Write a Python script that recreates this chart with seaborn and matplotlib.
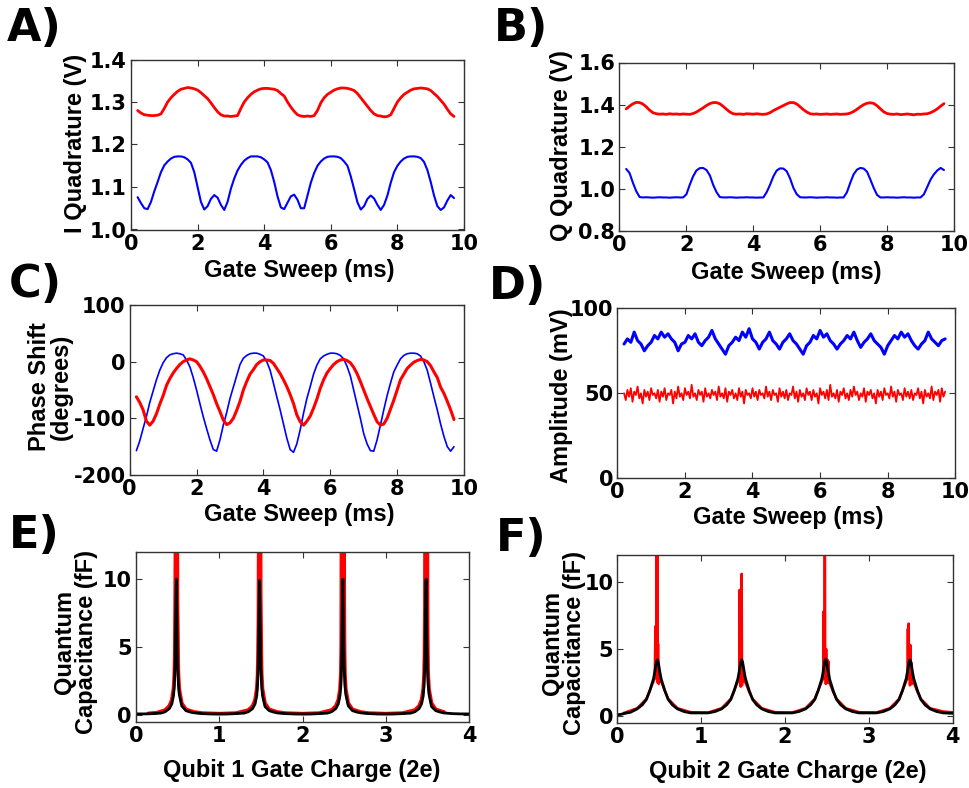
import numpy as np
import matplotlib
matplotlib.use("Agg")
import matplotlib.pyplot as plt
import seaborn as sns
from matplotlib.ticker import FormatStrFormatter, FixedLocator
from matplotlib.font_manager import FontProperties

# ---------------- data ----------------
# Panel A: I quadrature (V), gate sweep 0.2 .. 9.7 ms, 0.1 ms steps
i_quad_red = [1.280,1.274,1.270,1.269,1.268,1.268,1.269,1.272,1.285,1.300,
              1.310,1.318,1.325,1.330,1.332,1.334,1.333,1.331,1.328,1.322,
              1.315,1.308,1.298,1.287,1.277,1.270,1.267,1.267,1.266,1.267,
              1.268,1.285,1.300,1.310,1.318,1.324,1.328,1.331,1.332,1.332,
              1.331,1.330,1.327,1.320,1.314,1.300,1.288,1.278,1.270,1.267,
              1.266,1.267,1.266,1.268,1.280,1.298,1.310,1.318,1.323,1.328,
              1.331,1.333,1.333,1.332,1.330,1.327,1.320,1.310,1.300,1.290,
              1.280,1.272,1.268,1.267,1.265,1.266,1.270,1.285,1.300,1.310,
              1.318,1.323,1.328,1.331,1.332,1.333,1.332,1.331,1.327,1.320,
              1.313,1.304,1.295,1.283,1.272,1.266]
i_quad_blue = [1.076,1.062,1.050,1.048,1.065,1.090,1.112,1.135,1.151,1.160,
               1.167,1.171,1.172,1.172,1.170,1.165,1.157,1.135,1.100,1.065,
               1.047,1.055,1.072,1.081,1.075,1.058,1.046,1.065,1.096,1.120,
               1.139,1.152,1.162,1.168,1.172,1.172,1.172,1.170,1.165,1.158,
               1.140,1.112,1.078,1.052,1.048,1.063,1.078,1.082,1.070,1.050,
               1.050,1.080,1.110,1.133,1.150,1.160,1.167,1.171,1.172,1.172,
               1.171,1.168,1.160,1.150,1.125,1.095,1.064,1.047,1.055,1.072,
               1.080,1.073,1.058,1.046,1.058,1.080,1.110,1.135,1.150,1.160,
               1.167,1.171,1.172,1.172,1.171,1.168,1.159,1.140,1.112,1.080,
               1.055,1.046,1.052,1.068,1.081,1.074]

# Panel B: Q quadrature (V)
q_quad_red = [1.380,1.393,1.404,1.411,1.410,1.403,1.390,1.374,1.362,1.357,
              1.355,1.356,1.354,1.357,1.355,1.356,1.354,1.356,1.355,1.354,
              1.358,1.365,1.375,1.385,1.396,1.405,1.410,1.410,1.404,1.392,
              1.378,1.365,1.357,1.355,1.356,1.354,1.357,1.356,1.355,1.357,
              1.355,1.354,1.356,1.362,1.372,1.380,1.388,1.396,1.404,1.410,
              1.410,1.403,1.390,1.376,1.365,1.357,1.355,1.356,1.354,1.355,
              1.356,1.354,1.355,1.356,1.354,1.355,1.356,1.360,1.368,1.378,
              1.390,1.400,1.407,1.409,1.406,1.395,1.380,1.366,1.358,1.355,
              1.354,1.356,1.353,1.354,1.356,1.354,1.352,1.355,1.354,1.356,
              1.357,1.362,1.370,1.380,1.393,1.405]
q_quad_blue = [1.095,1.076,1.030,0.990,0.962,0.960,0.961,0.960,0.959,0.960,
               0.961,0.960,0.960,0.959,0.960,0.961,0.960,0.960,0.975,1.020,
               1.060,1.088,1.099,1.100,1.090,1.065,1.020,0.985,0.962,0.960,
               0.960,0.961,0.960,0.959,0.960,0.960,0.961,0.960,0.960,0.959,
               0.960,0.960,0.985,1.020,1.060,1.088,1.098,1.097,1.084,1.050,
               1.005,0.975,0.961,0.960,0.960,0.961,0.960,0.959,0.960,0.960,
               0.961,0.960,0.960,0.959,0.960,0.960,0.985,1.030,1.070,1.092,
               1.100,1.097,1.082,1.045,1.005,0.972,0.960,0.960,0.961,0.960,
               0.960,0.959,0.960,0.961,0.960,0.960,0.959,0.960,0.960,0.975,
               1.010,1.045,1.070,1.088,1.100,1.090]

# Panel C: phase shift (degrees)
phase_blue = [-157,-140,-118,-97,-72,-52,-32,-15,-2,7,
              12,14,15,14,12,3,-9,-28,-50,-74,
              -97,-118,-138,-155,-158,-138,-112,-90,-65,-45,
              -25,-5,6,11,14,15,15,13,10,0,
              -15,-38,-62,-85,-110,-135,-155,-160,-145,-120,
              -91,-65,-44,-22,-6,5,10,13,15,15,
              14,11,5,-8,-25,-50,-75,-100,-127,-145,
              -157,-158,-138,-112,-85,-60,-38,-18,-6,5,
              11,14,15,15,14,10,0,-15,-38,-62,
              -85,-110,-132,-150,-158,-150]
phase_red = [-62,-72,-85,-105,-112,-105,-92,-75,-60,-42,
             -30,-20,-12,-5,0,3,5,3,0,-8,
             -18,-30,-44,-58,-74,-88,-103,-111,-108,-100,
             -86,-70,-50,-35,-22,-14,-5,0,3,3,
             2,-3,-12,-21,-32,-44,-58,-74,-94,-106,
             -112,-105,-96,-82,-66,-47,-32,-20,-12,-5,
             0,3,4,2,-2,-10,-21,-35,-50,-65,
             -79,-93,-106,-112,-110,-100,-84,-68,-50,-32,
             -22,-12,-6,-1,2,4,3,0,-7,-18,
             -28,-45,-56,-70,-85,-102]

# Panel D: amplitude (mV)
amp_blue = [79,82,80,86,81,79,75,78,80,84,
            82,86,83,85,82,80,75,79,80,84,
            82,85,80,78,81,83,87,82,79,76,
            73,78,80,83,81,86,83,88,82,80,
            76,80,82,86,81,79,76,80,82,85,
            81,79,76,73,78,80,84,82,87,83,
            85,81,79,76,79,81,84,82,86,81,
            77,80,82,85,81,79,77,73,78,81,
            84,82,86,83,85,81,78,76,79,81,
            86,82,80,78,81,82]
amp_red = [50,46,52,48,53,45,51,49,54,47,
           50,44,52,48,51,46,53,49,50,47,
           52,45,51,48,53,46,50,49,52,44,
           51,47,54,48,50,46,53,49,51,47,
           55,48,50,46,52,49,51,45,53,48,
           50,47,52,49,51,46,54,48,50,47,
           53,45,51,49,52,47,50,46,53,48,
           51,44,52,49,50,47,53,48,51,46,
           52,49,50,47,54,48,51,46,52,49,
           50,45,53,48,51,47,52,46,50,49,
           54,47,51,45,52,48,50,46,53,49,
           51,46,52,48,50,44,53,49,51,47,
           52,46,55,48,50,47,52,45,51,49,
           53,47,50,46,52,48,54,49,51,46,
           50,48,53,45,51,49,52,47,50,44,
           52,48,51,46,53,49,50,47,54,48,
           51,45,52,49,50,46,53,48,51,47,
           52,46,50,49,53,47,51,44,52,48,
           50,47,54,46,51,49,52,45,53,48,
           51]

# Panel E: quantum capacitance (fF) vs qubit 1 gate charge (2e)
qc1_black_x = [0.00,0.10,0.20,0.30,
               0.35,0.40,0.43,0.45,0.46,0.47,0.475,0.48,0.485,0.49,0.495,0.50,0.51,0.52,0.55,0.60,0.65,0.70,0.80,
               0.90,1.00,1.10,1.20,1.30,
               1.35,1.40,1.43,1.45,1.46,1.47,1.475,1.48,1.485,1.49,1.495,1.50,1.51,1.52,1.55,1.60,1.65,1.70,1.80,
               1.90,2.00,2.10,2.20,2.30,
               2.35,2.40,2.43,2.45,2.46,2.47,2.475,2.48,2.485,2.49,2.495,2.50,2.51,2.52,2.55,2.60,2.65,2.70,2.80,
               2.90,3.00,3.10,3.20,3.30,
               3.35,3.40,3.43,3.45,3.46,3.47,3.475,3.48,3.485,3.49,3.495,3.50,3.51,3.52,3.55,3.60,3.65,3.70,3.80,
               3.90,4.00]
qc1_black_y = [0.06,0.06,0.08,0.12,
               0.22,0.45,0.8,1.4,2.1,3.8,6.0,8.5,10.0,7.8,5.0,3.6,2.2,1.5,0.65,0.3,0.2,0.14,0.08,
               0.06,0.06,0.06,0.08,0.12,
               0.22,0.45,0.8,1.4,2.2,3.9,6.5,8.8,9.9,7.5,5.2,3.5,2.1,1.4,0.6,0.3,0.2,0.13,0.08,
               0.06,0.06,0.06,0.08,0.12,
               0.22,0.45,0.8,1.4,2.1,3.7,6.2,8.6,10.0,7.9,5.1,3.6,2.2,1.5,0.65,0.3,0.2,0.14,0.08,
               0.06,0.06,0.06,0.08,0.12,
               0.22,0.45,0.8,1.4,2.2,3.8,6.4,9.0,10.0,7.6,5.0,3.5,2.2,1.5,0.6,0.3,0.2,0.13,0.08,
               0.06,0.06]
qc1_red_x = [0.15,0.25,0.35,0.40,0.43,0.45,0.46,0.465,0.47,0.475,0.478,0.482,0.486,0.49,0.494,0.498,0.502,0.506,0.51,0.52,0.55,0.60,0.70,0.80,
             1.00,1.20,
             1.35,1.40,1.43,1.45,1.46,1.465,1.47,1.475,1.478,1.482,1.486,1.49,1.494,1.498,1.502,1.506,1.51,1.52,1.55,1.60,1.70,1.80,
             2.00,2.20,
             2.35,2.40,2.43,2.45,2.46,2.465,2.47,2.474,2.478,2.482,2.486,2.49,2.494,2.498,2.502,2.506,2.51,2.52,2.55,2.60,2.70,2.80,
             3.00,3.20,
             3.35,3.40,3.43,3.45,3.46,3.465,3.47,3.474,3.478,3.482,3.486,3.49,3.494,3.498,3.502,3.506,3.51,3.52,3.55,3.60,3.70]
qc1_red_y = [0.10,0.15,0.35,0.65,1.1,1.9,2.9,4.3,8.0,14,20,12,20,15,20,8.5,6.5,4.4,3.0,1.9,0.85,0.4,0.2,0.12,
             0.08,0.12,
             0.35,0.65,1.1,1.9,2.9,4.5,6.7,14,20,13,20,16,20,9,6.7,4.4,3.0,1.9,0.85,0.4,0.2,0.12,
             0.08,0.12,
             0.35,0.65,1.1,1.9,3.0,5.0,20,20,9,8.5,9.5,8.5,20,20,8,4.4,3.0,1.9,0.85,0.4,0.2,0.12,
             0.08,0.12,
             0.35,0.65,1.1,1.9,3.0,4.4,8,20,20,14,20,20,16,20,8,4.5,3.0,1.9,0.85,0.4,0.2]

# Panel F: quantum capacitance (fF) vs qubit 2 gate charge (2e)
qc2_black_x = [0.00,0.04,
               0.075,0.155,0.235,0.295,0.345,0.385,0.41,0.43,0.445,0.455,0.465,0.475,0.485,0.495,0.505,0.52,0.54,0.565,0.605,0.655,0.715,0.795,0.875,
               1.082,1.162,1.242,1.302,1.352,1.392,1.417,1.437,1.452,1.462,1.472,1.482,1.492,1.502,1.512,1.527,1.547,1.572,1.612,1.662,1.722,1.802,1.882,
               2.084,2.164,2.244,2.304,2.354,2.394,2.419,2.439,2.454,2.464,2.474,2.484,2.494,2.504,2.514,2.529,2.549,2.574,2.614,2.664,2.724,2.804,2.884,
               3.090,3.170,3.250,3.310,3.360,3.400,3.425,3.445,3.460,3.470,3.480,3.490,3.500,3.510,3.520,3.535,3.555,3.580,3.620,3.670,3.730,3.810,3.890,
               4.00]
qc2_black_y = [0.12,0.14,
               0.20,0.30,0.55,0.85,1.25,1.9,2.4,2.8,3.3,3.7,4.05,4.2,4.05,3.7,3.3,2.8,2.4,1.9,1.25,0.85,0.55,0.35,0.25,
               0.25,0.35,0.55,0.85,1.25,1.9,2.4,2.8,3.3,3.7,4.05,4.2,4.05,3.7,3.3,2.8,2.4,1.9,1.25,0.85,0.55,0.35,0.25,
               0.25,0.35,0.55,0.85,1.25,1.9,2.4,2.8,3.3,3.7,4.1,4.25,4.1,3.7,3.3,2.8,2.4,1.9,1.25,0.85,0.55,0.35,0.25,
               0.25,0.35,0.55,0.85,1.25,1.9,2.4,2.8,3.3,3.7,4.05,4.2,4.05,3.7,3.3,2.8,2.4,1.9,1.25,0.85,0.55,0.35,0.25,
               0.22]
qc2_red_x = [0.075,0.235,0.345,0.385,0.41,0.43,0.445,0.452,0.456,0.46,0.464,0.468,0.472,0.476,0.48,0.484,0.488,0.492,0.497,0.505,0.52,0.54,0.565,0.605,0.715,0.875,
             1.082,1.242,1.352,1.392,1.417,1.437,1.452,1.456,1.46,1.465,1.47,1.474,1.478,1.482,1.486,1.49,1.495,1.50,1.51,1.527,1.547,1.572,1.612,1.722,1.882,
             2.084,2.244,2.354,2.394,2.419,2.439,2.454,2.46,2.465,2.47,2.474,2.478,2.482,2.486,2.49,2.495,2.50,2.505,2.51,2.515,2.529,2.549,2.574,2.614,2.724,2.884,
             3.090,3.250,3.360,3.400,3.425,3.445,3.46,3.465,3.47,3.475,3.48,3.485,3.49,3.495,3.50,3.505,3.51,3.52,3.535,3.555,3.580,3.620,3.730,3.890,4.00]
qc2_red_y = [0.25,0.6,1.3,1.9,2.3,2.6,2.9,6.7,3.0,4.3,2.8,20,3.5,20,2.5,5.4,3.0,2.4,3.4,2.6,2.6,2.3,1.9,1.3,0.6,0.3,
             0.28,0.6,1.3,1.9,2.3,2.6,2.8,9.4,3.0,8.0,2.2,8.0,2.5,10.6,2.3,4.0,2.6,3.2,2.6,2.5,2.2,1.8,1.3,0.6,0.3,
             0.28,0.6,1.3,1.9,2.3,2.6,2.8,7.8,3.0,5.8,20,3.0,4.5,2.4,5.0,2.6,3.4,4.2,2.5,4.1,2.5,2.2,1.8,1.3,0.6,0.3,
             0.28,0.6,1.3,1.9,2.3,2.6,2.8,6.5,3.0,6.9,2.8,5.0,2.3,5.3,3.0,4.0,2.4,2.6,2.5,2.2,1.8,1.3,0.6,0.35,0.3]

sweep_start, sweep_end = 0.2, 9.7

# ---------------- style ----------------
sns.set_theme(style="white")
plt.rcParams["font.family"] = ["Liberation Sans", "DejaVu Sans"]
plt.rcParams["font.weight"] = "bold"
plt.rcParams["axes.unicode_minus"] = False
plt.rcParams["text.color"] = "black"
plt.rcParams["axes.labelcolor"] = "black"

W, H = 970, 788
fig = plt.figure(figsize=(W / 100, H / 100), dpi=100)
fig.patch.set_facecolor("white")

def px_axes(left, top, right, bottom):
    return fig.add_axes([left / W, 1 - bottom / H, (right - left) / W, (bottom - top) / H])

TICK_FONT = dict(family="DejaVu Sans", weight="bold", size=15)
LABEL_SIZE = 17

def style(ax, xlim, ylim, xticks, yticks, yfmt=None):
    ax.set_xlim(*xlim)
    ax.set_ylim(*ylim)
    ax.xaxis.set_major_locator(FixedLocator(xticks))
    ax.yaxis.set_major_locator(FixedLocator(yticks))
    if yfmt:
        ax.yaxis.set_major_formatter(FormatStrFormatter(yfmt))
    ax.tick_params(direction="in", length=4, width=0.8, top=True, right=True,
                   bottom=True, left=True, colors="#333333", labelcolor="black")
    ax.tick_params(axis="x", pad=3)
    ax.tick_params(axis="y", pad=3)
    for lab in ax.get_xticklabels() + ax.get_yticklabels():
        lab.set_fontproperties(FontProperties(**TICK_FONT))
        lab.set_color("black")
    for s in ax.spines.values():
        s.set_color("#333333")
        s.set_linewidth(1.0)
        s.set_visible(True)
    ax.set_facecolor("white")
    ax.grid(False)

def labels(ax, xl, yl, xpos, ypos, ylinesp=1.0):
    ax.set_xlabel(xl, fontsize=LABEL_SIZE, fontweight="bold", color="black")
    ax.set_ylabel(yl, fontsize=LABEL_SIZE, fontweight="bold", linespacing=ylinesp, color="black")
    ax.xaxis.label.set_verticalalignment("center")
    ax.yaxis.label.set_verticalalignment("center")
    ax.xaxis.set_label_coords(*xpos)
    ax.yaxis.set_label_coords(*ypos)

def line(ax, x, y, color, lw):
    sns.lineplot(x=np.asarray(x, float), y=np.asarray(y, float), ax=ax, color=color,
                 linewidth=lw, estimator=None, sort=False, legend=False)

def sweep(y):
    return np.linspace(sweep_start, sweep_end, len(y))

# Panel A
axA = px_axes(131, 59.5, 464, 229.5)
line(axA, sweep(i_quad_red), i_quad_red, "#ff0000", 2.0)
line(axA, sweep(i_quad_blue), i_quad_blue, "#0000ff", 1.5)
style(axA, (0, 10), (1.0, 1.4), [0, 2, 4, 6, 8, 10], [1.0, 1.1, 1.2, 1.3, 1.4], "%.1f")
labels(axA, "Gate Sweep (ms)", "I Quadrature (V)", (0.504, -0.244), (-0.168, 0.505))

# Panel B
axB = px_axes(619.5, 62.5, 954, 231.2)
line(axB, sweep(q_quad_red), q_quad_red, "#ff0000", 2.0)
line(axB, sweep(q_quad_blue), q_quad_blue, "#0000ff", 1.5)
style(axB, (0, 10), (0.8, 1.6), [0, 2, 4, 6, 8, 10], [0.8, 1.0, 1.2, 1.4, 1.6], "%.1f")
labels(axB, "Gate Sweep (ms)", "Q Quadrature (V)", (0.5, -0.245), (-0.172, 0.51))

# Panel C
axC = px_axes(129.7, 305, 464, 475)
line(axC, sweep(phase_blue), phase_blue, "#0000ff", 1.2)
line(axC, sweep(phase_red), phase_red, "#ff0000", 2.2)
style(axC, (0, 10), (-200, 100), [0, 2, 4, 6, 8, 10], [-200, -100, 0, 100])
labels(axC, "Gate Sweep (ms)", "Phase Shift\n(degrees)", (0.506, -0.235), (-0.238, 0.518), 0.95)

# Panel D
axD = px_axes(617.3, 308.3, 955.3, 478.3)
line(axD, sweep(amp_blue), amp_blue, "#0000ff", 2.2)
line(axD, sweep(amp_red), amp_red, "#ff0000", 1.3)
style(axD, (0, 10), (0, 100), [0, 2, 4, 6, 8, 10], [0, 50, 100])
labels(axD, "Gate Sweep (ms)", "Amplitude (mV)", (0.505, -0.228), (-0.164, 0.484))

# Panel E
axE = px_axes(136, 552, 469, 721.5)
line(axE, qc1_red_x, qc1_red_y, "#ff0000", 2.6)
line(axE, qc1_black_x, qc1_black_y, "#000000", 2.0)
style(axE, (0, 4), (-0.5, 12), [0, 1, 2, 3, 4], [0, 5, 10])
labels(axE, "Qubit 1 Gate Charge (2e)", "Quantum\nCapacitance (fF)", (0.498, -0.292), (-0.183, 0.469), 0.95)

# Panel F
axF = px_axes(617.5, 555, 952.7, 723)
line(axF, qc2_red_x, qc2_red_y, "#ff0000", 1.8)
line(axF, qc2_black_x, qc2_black_y, "#000000", 2.0)
style(axF, (0, 4), (-0.5, 12), [0, 1, 2, 3, 4], [0, 5, 10])
labels(axF, "Qubit 2 Gate Charge (2e)", "Quantum\nCapacitance (fF)", (0.507, -0.289), (-0.16, 0.476), 0.95)

# Panel letters
for letter, (x, y) in {"A)": (7, 7), "B)": (494, 7), "C)": (9, 263),
                       "D)": (489, 265), "E)": (9, 514), "F)": (496, 517)}.items():
    fig.text(x / W, 1 - y / H, letter, ha="left", va="top", family="DejaVu Sans",
             fontweight="bold", fontsize=32, color="black")

fig.savefig("out.png", dpi=100, facecolor="white")
